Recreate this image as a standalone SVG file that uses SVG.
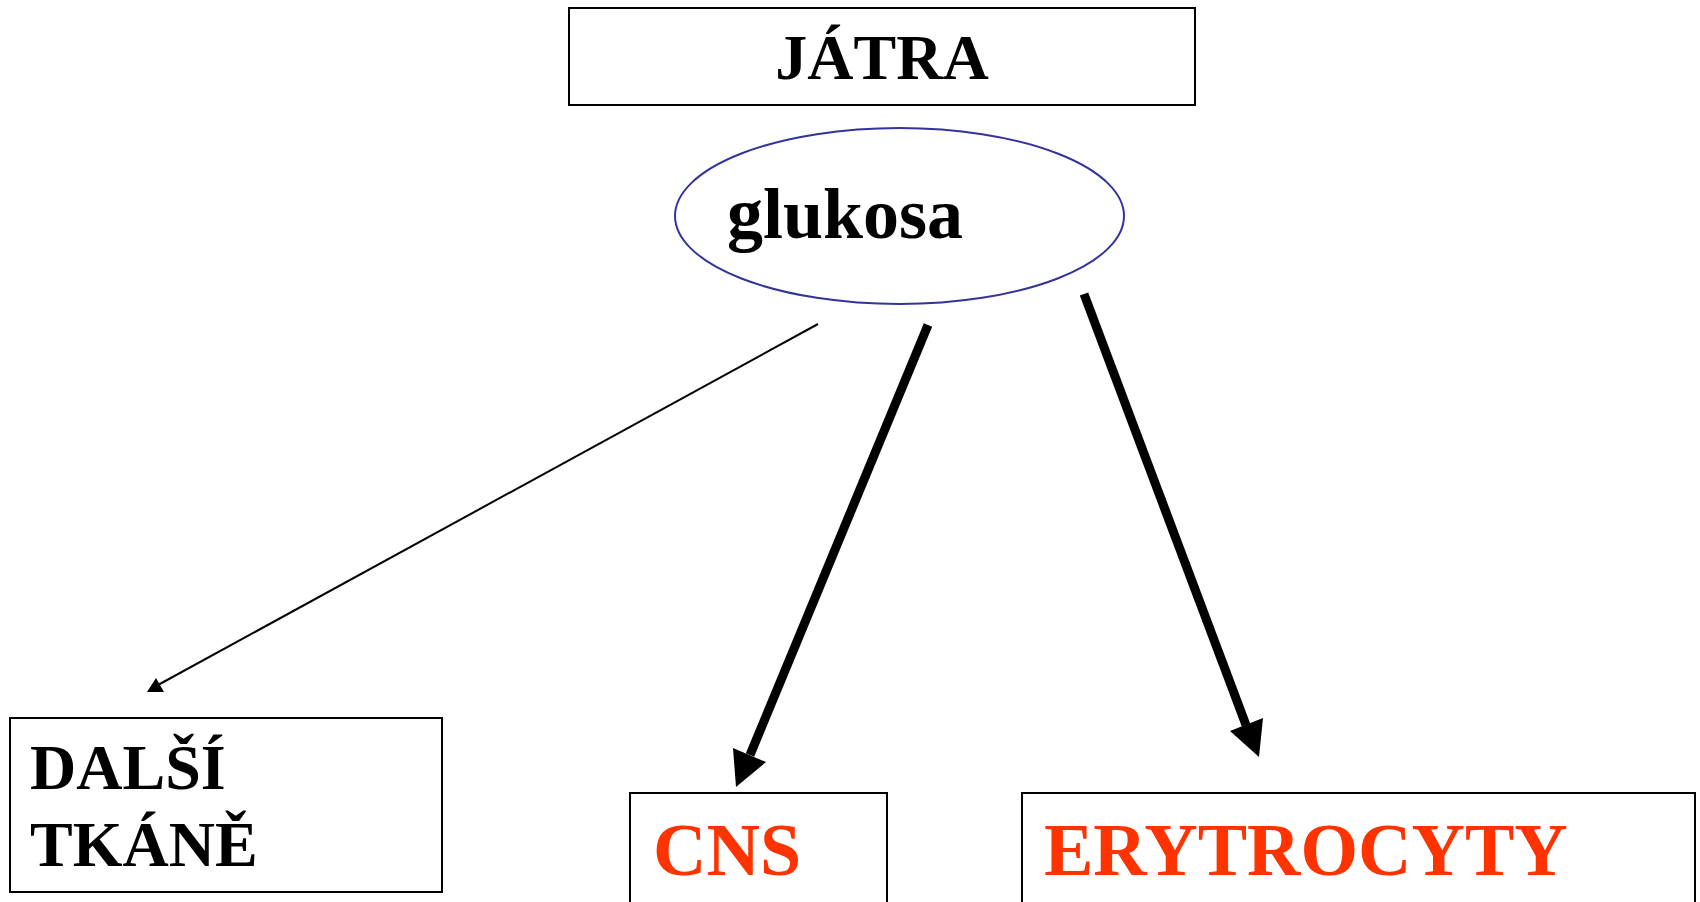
<svg xmlns="http://www.w3.org/2000/svg" width="1700" height="902" viewBox="0 0 1700 902">
<style>
.box{fill:#fff;stroke:#000;stroke-width:2}
.t{font-family:"Liberation Serif","Times New Roman",serif;font-weight:bold}
.blk{fill:#000}
.red{fill:#FF3300}
.thin{stroke:#000;stroke-width:2;fill:none}
.thick{stroke:#000;stroke-width:9;fill:none}
.head{fill:#000}
</style>
<rect width="1700" height="902" fill="#fff"/>
<g id="jatra">
<rect class="box" x="569" y="8" width="626" height="97"/>
<text class="t blk" x="882" y="79" font-size="64" text-anchor="middle">JÁTRA</text>
</g>
<g id="glukosa">
<ellipse cx="899.5" cy="216" rx="224.5" ry="88" fill="#fff" stroke="#333399" stroke-width="2"/>
<text class="t blk" x="727" y="238" font-size="72">glukosa</text>
</g>
<g id="dalsi-tkane">
<rect class="box" x="10" y="718" width="432" height="174"/>
<text class="t blk" x="30" y="789" font-size="64">DALŠÍ</text>
<text class="t blk" x="30" y="866" font-size="64">TKÁNĚ</text>
</g>
<g id="cns">
<rect class="box" x="630" y="793" width="257" height="120"/>
<text class="t red" x="653" y="875" font-size="74">CNS</text>
</g>
<g id="erytrocyty">
<rect class="box" x="1022" y="793" width="673" height="120"/>
<text class="t red" x="1044" y="875" font-size="74">ERYTROCYTY</text>
</g>
<g id="connectors">
<line class="thin" x1="818" y1="324" x2="158" y2="685"/>
<polygon class="head" points="147,692 156,678 164,692"/>
<line class="thick" x1="928" y1="325" x2="750" y2="755"/>
<polygon class="head" points="736,787 733,748 766,762"/>
<line class="thick" x1="1084" y1="294" x2="1246" y2="725"/>
<polygon class="head" points="1259,757 1230,731 1263,718"/>
</g>
</svg>
